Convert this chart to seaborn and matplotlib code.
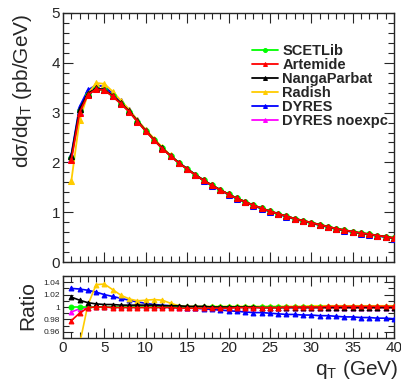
import numpy as np
import pandas as pd
import matplotlib
matplotlib.use("Agg")
import matplotlib.pyplot as plt
from matplotlib.ticker import MultipleLocator
import seaborn as sns

# q_T bin centres (GeV)
qt = np.arange(1, 41)

# reference prediction (SCETLib), pb/GeV
scetlib = [2.09, 3.03, 3.36, 3.47, 3.45, 3.33, 3.18, 3.02, 2.82, 2.63,
           2.45, 2.28, 2.13, 1.99, 1.87, 1.75, 1.64, 1.54, 1.45, 1.36,
           1.28, 1.21, 1.14, 1.08, 1.02, 0.97, 0.92, 0.87, 0.83, 0.79,
           0.75, 0.71, 0.67, 0.64, 0.61, 0.58, 0.56, 0.53, 0.51, 0.48]

# ratios to SCETLib
r_scetlib = [1.0] * 40
r_artemide = [0.978, 0.990, 0.999, 1.000, 1.000, 0.999, 0.999, 0.999, 0.999, 0.999,
              0.999, 0.999, 0.999, 0.998, 0.998, 0.998, 0.998, 0.998, 0.998, 0.998,
              0.999, 0.999, 0.999, 0.999, 0.999, 0.999, 1.000, 1.000, 1.000, 1.000,
              1.000, 1.001, 1.001, 1.001, 1.001, 1.001, 1.001, 1.001, 1.001, 1.001]
r_nanga = [1.016, 1.011, 1.007, 1.005, 1.004, 1.004, 1.003, 1.003, 1.003, 1.003,
           1.003, 1.002, 1.002, 1.002, 1.001, 1.001, 1.001, 1.000, 1.000, 1.000,
           1.000, 1.000, 1.000, 0.999, 0.999, 0.999, 0.999, 0.999, 0.999, 0.999,
           0.999, 0.999, 0.999, 0.999, 0.999, 0.999, 0.999, 0.999, 0.999, 0.999]
r_radish = [0.775, 0.940, 1.003, 1.036, 1.037, 1.028, 1.019, 1.013, 1.010, 1.011,
            1.012, 1.011, 1.006, 1.002, 1.001, 1.001, 1.001, 1.001, 1.001, 1.001,
            1.001, 1.001, 1.001, 1.001, 1.001, 1.001, 1.001, 1.001, 1.001, 1.002,
            1.002, 1.002, 1.002, 1.002, 1.002, 1.002, 1.002, 1.002, 1.002, 1.002]
r_dyres = [1.030, 1.029, 1.027, 1.024, 1.020, 1.017, 1.014, 1.011, 1.008, 1.006,
           1.004, 1.003, 1.002, 1.000, 0.999, 0.998, 0.997, 0.996, 0.995, 0.994,
           0.993, 0.992, 0.991, 0.991, 0.990, 0.989, 0.988, 0.988, 0.987, 0.987,
           0.986, 0.986, 0.985, 0.984, 0.984, 0.983, 0.983, 0.982, 0.982, 0.981]
r_noexpc = [0.992, 0.997, 0.999, 1.000, 1.000, 1.000, 1.000, 1.000, 1.000, 1.000,
            1.000, 1.000, 1.000, 0.999, 0.998, 0.998, 0.998, 0.998, 0.998, 0.998,
            0.999, 0.999, 0.999, 0.999, 0.999, 0.999, 0.999, 0.999, 0.999, 0.999,
            0.999, 0.999, 0.999, 0.999, 0.999, 0.999, 0.999, 0.999, 0.999, 0.999]

labels = ["SCETLib", "Artemide", "NangaParbat", "Radish", "DYRES", "DYRES noexpc"]
ratios = [r_scetlib, r_artemide, r_nanga, r_radish, r_dyres, r_noexpc]
colors = ["#00ff00", "#ff0000", "#000000", "#ffcc00", "#0000ff", "#ff00ff"]
markers = ["o", "^", "^", "^", "^", "^"]
zorders = [5, 7, 6, 4, 3, 2]

sns.set_style("ticks")
plt.rcParams['font.family'] = ['Liberation Sans', 'DejaVu Sans']
plt.rcParams['mathtext.fontset'] = 'custom'
plt.rcParams['mathtext.rm'] = 'Liberation Sans'
plt.rcParams['mathtext.it'] = 'Liberation Sans'

fig = plt.figure(figsize=(4.01, 3.83), dpi=100)
W, H = 401, 383
ax1 = fig.add_axes([63 / W, 1 - 262 / H, 331 / W, 249 / H])
ax2 = fig.add_axes([63 / W, 1 - 338 / H, 331 / W, 62 / H])

for lab, rat, col, mk, z in zip(labels, ratios, colors, markers, zorders):
    vals = np.array(scetlib) * np.array(rat)
    sns.lineplot(x=qt, y=vals, ax=ax1, color=col, marker=mk, markersize=4,
                 markeredgecolor=col, linewidth=1.3, label=lab, zorder=z)
    sns.lineplot(x=qt, y=rat, ax=ax2, color=col, marker=mk, markersize=3.5,
                 markeredgecolor=col, linewidth=1.2, zorder=z, legend=False)

ax1.set_xlim(0, 40)
ax1.set_ylim(0, 5)
ax2.set_xlim(0, 40)
ax2.set_ylim(0.95, 1.05)

for ax in (ax1, ax2):
    ax.xaxis.set_major_locator(MultipleLocator(5))
    ax.xaxis.set_minor_locator(MultipleLocator(1))
    ax.tick_params(which='both', direction='in', top=True, right=True, width=0.8)
    ax.tick_params(which='major', length=7)
    ax.tick_params(which='minor', length=4)
    for s in ax.spines.values():
        s.set_linewidth(1.0)
    ax.set_xlabel("")
    ax.set_ylabel("")

ax1.yaxis.set_major_locator(MultipleLocator(1))
ax1.yaxis.set_minor_locator(MultipleLocator(0.2))
ax1.tick_params(axis='y', labelsize=11, pad=2)
ax1.tick_params(axis='x', labelbottom=False)

ax2.yaxis.set_major_locator(MultipleLocator(0.02))
ax2.yaxis.set_minor_locator(MultipleLocator(0.01))
ax2.set_yticks([0.96, 0.98, 1.0, 1.02, 1.04])
ax2.set_yticklabels(["0.96", "0.98", "1", "1.02", "1.04"])
ax2.tick_params(axis='y', labelsize=6, pad=2)
ax2.tick_params(axis='x', labelsize=11, pad=2)

fig.text(23 / W, 1 - 14 / H, r"d$\sigma$/dq$_{T}$ (pb/GeV)", rotation=90,
         ha='center', va='top', fontsize=15)
fig.text(28 / W, 1 - 306 / H, "Ratio", rotation=90, ha='center', va='center',
         fontsize=15)
fig.text(398 / W, 1 - 375 / H, r"q$_{T}$ (GeV)", ha='right', va='baseline',
         fontsize=15)

leg = ax1.legend(loc='upper left', bbox_to_anchor=(0.57, 0.875), frameon=False,
                 prop={'weight': 'bold', 'size': 10.5}, handlelength=1.8,
                 handletextpad=0.3, labelspacing=0.0, markerscale=0.7,
                 borderpad=0, borderaxespad=0)

fig.savefig("out.png", dpi=100)
